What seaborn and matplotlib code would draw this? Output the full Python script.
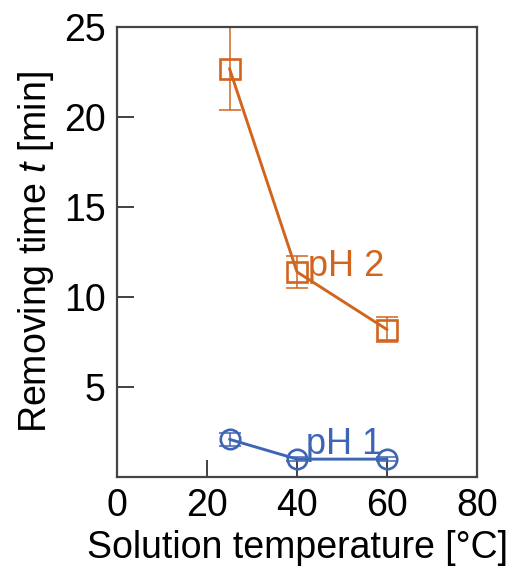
import numpy as np
import pandas as pd
import matplotlib
matplotlib.use("Agg")
import matplotlib.pyplot as plt
import seaborn as sns

# data
temp = [25, 40, 60]
ph2_time = [22.7, 11.4, 8.2]
ph2_err = [2.3, 0.9, 0.7]
ph1_time = [2.1, 1.0, 1.0]
ph1_err = [0.35, 0.1, 0.1]

x_ticks = [0, 20, 40, 60, 80]
y_ticks = [5, 10, 15, 20, 25]

ORANGE = "#D2651E"
BLUE = "#3D65B3"

sns.set_theme(style="white")
plt.rcParams['font.family'] = ['Liberation Sans', 'DejaVu Sans']
plt.rcParams['mathtext.fontset'] = 'custom'
plt.rcParams['mathtext.it'] = 'Liberation Sans:italic'
plt.rcParams['mathtext.rm'] = 'Liberation Sans'
plt.rcParams['text.color'] = 'black'
plt.rcParams['axes.labelcolor'] = 'black'

df = pd.DataFrame({
    'temp': temp * 2,
    'time': ph2_time + ph1_time,
    'ph': ['pH 2'] * 3 + ['pH 1'] * 3,
})

fig = plt.figure(figsize=(5.13, 5.66), dpi=100)
ax = fig.add_axes([0.228, 0.157, 0.702, 0.795])

sns.lineplot(data=df, x='temp', y='time', hue='ph', style='ph',
             palette={'pH 2': ORANGE, 'pH 1': BLUE},
             markers={'pH 2': 's', 'pH 1': 'o'}, dashes=False,
             markersize=14, markerfacecolor='none', markeredgewidth=1.9,
             linewidth=2.1, legend=False, ax=ax)
for line, c in zip(ax.get_lines(), [ORANGE, BLUE]):
    line.set_markeredgecolor(c)
    line.set_markerfacecolor('none')

ax.errorbar(temp, ph2_time, yerr=ph2_err, fmt='none', ecolor=ORANGE,
            elinewidth=1.1, capsize=8, capthick=1.1, zorder=1)
ax.errorbar(temp, ph1_time, yerr=ph1_err, fmt='none', ecolor=BLUE,
            elinewidth=1.1, capsize=8, capthick=1.1, zorder=1)

ax.text(42.5, 11.2, 'pH 2', color=ORANGE, fontsize=26)
ax.text(42.0, 1.3, 'pH 1', color=BLUE, fontsize=26)

ax.set_xlim(0, 80)
ax.set_ylim(0, 25)
ax.set_xticks(x_ticks)
ax.set_yticks(y_ticks)
ax.tick_params(bottom=True, left=True, direction='in', length=12, width=1.3,
               color='#333333', labelsize=27, labelcolor='black', pad=8)
for s in ax.spines.values():
    s.set_color('#444444')
    s.set_linewidth(1.6)

ax.set_xlabel('Solution temperature [°C]', fontsize=27, labelpad=4)
ax.set_ylabel('Removing time $\\it{t}$ [min]', fontsize=27, labelpad=6)

fig.savefig('out.png', dpi=100)
